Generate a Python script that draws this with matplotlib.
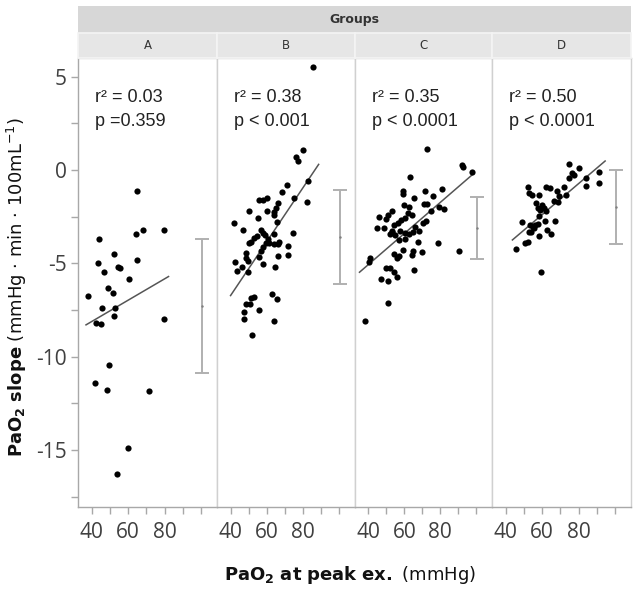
import numpy as np
import matplotlib.pyplot as plt
from matplotlib.patches import Rectangle

plt.rcParams['mathtext.fontset'] = 'custom'
plt.rcParams['mathtext.rm'] = 'DejaVu Sans'
plt.rcParams['mathtext.bf'] = 'DejaVu Sans:bold'
plt.rcParams['axes.unicode_minus'] = False

groups = ['A', 'B', 'C', 'D']

# PaO2 at peak ex. (mmHg) vs PaO2 slope
a_x = [65.1, 64.5, 68.0, 79.6, 44.2, 52.2, 43.6, 54.5, 55.5, 65.1, 46.9, 60.5, 48.7, 51.5,
       38.2, 45.6, 52.9, 52.2, 42.5, 44.9, 79.5, 49.5, 41.6, 48.2, 71.3, 60.0, 54.0]
a_y = [-1.11, -3.43, -3.21, -3.21, -3.71, -4.50, -5.00, -5.20, -5.25, -4.82, -5.45, -5.84, -6.34, -6.60,
       -6.73, -7.38, -7.41, -7.82, -8.18, -8.25, -8.00, -10.45, -11.40, -11.80, -11.84, -14.90, -16.30]

b_x = [85.5, 80.0, 76.2, 77.2, 82.8, 71.0, 68.6, 82.4, 75.0, 55.8, 57.7, 59.9, 50.4, 59.9,
       66.4, 65.1, 63.8, 64.2, 55.0, 65.7, 41.9, 47.1, 56.7, 58.0, 58.9, 74.6, 64.2, 54.5,
       53.0, 51.2, 50.0, 59.5, 61.3, 63.8, 66.9, 72.0, 57.7, 57.1, 48.4, 48.7, 55.8, 66.4,
       72.0, 49.7, 42.4, 46.3, 57.8, 64.4, 43.5, 49.8, 63.0, 65.7, 53.0, 51.5, 48.4, 50.6,
       55.8, 47.4, 47.4, 64.0, 51.7, 60.5, 66.0]
b_y = [5.54, 1.07, 0.70, 0.50, -0.59, -0.80, -1.16, -1.73, -1.48, -1.61, -1.61, -1.52, -2.20, -2.20,
       -1.75, -2.02, -2.27, -2.41, -2.59, -2.77, -2.86, -3.21, -3.21, -3.36, -3.48, -3.39, -3.45, -3.54,
       -3.66, -3.84, -3.89, -3.93, -3.93, -3.98, -3.84, -4.07, -4.11, -4.34, -4.46, -4.73, -4.68, -4.61,
       -4.55, -4.88, -4.91, -5.18, -5.05, -5.21, -5.43, -5.48, -6.64, -6.91, -6.79, -6.88, -7.18, -7.20,
       -7.50, -7.63, -8.00, -8.07, -8.84, -3.70, -3.95]

c_x = [72.4, 92.0, 92.9, 97.6, 63.1, 59.4, 59.4, 71.5, 80.7, 65.6, 75.7, 60.0, 71.1, 72.6,
       79.4, 82.2, 62.8, 61.9, 64.1, 75.0, 53.0, 51.1, 45.9, 49.6, 58.1, 60.6, 71.9, 70.6,
       54.1, 45.0, 48.9, 65.7, 53.3, 57.8, 64.8, 68.3, 52.2, 54.8, 60.6, 62.4, 56.8, 60.4,
       67.8, 78.7, 59.4, 64.6, 69.6, 90.2, 54.4, 55.7, 64.1, 41.1, 40.4, 49.8, 52.0, 65.6,
       54.4, 56.1, 47.0, 51.1, 51.1, 37.8, 56.5, 53.0, 57.0]
c_y = [1.13, 0.25, 0.18, -0.09, -0.39, -1.11, -1.29, -1.11, -1.02, -1.52, -1.39, -1.88, -1.84, -1.82,
       -1.96, -2.11, -1.96, -2.29, -2.41, -2.20, -2.20, -2.41, -2.50, -2.64, -2.68, -2.55, -2.73, -2.86,
       -2.95, -3.13, -3.13, -3.04, -3.27, -3.27, -3.30, -3.27, -3.43, -3.48, -3.39, -3.45, -3.75, -3.70,
       -3.84, -3.93, -4.29, -4.34, -4.38, -4.34, -4.50, -4.73, -4.55, -4.73, -4.91, -5.23, -5.27, -5.38,
       -5.45, -5.71, -5.84, -5.95, -7.11, -8.07, -2.85, -3.35, -4.60]

d_x = [74.8, 80.0, 76.3, 77.4, 75.0, 91.5, 84.0, 91.5, 84.0, 52.2, 62.2, 64.3, 72.0, 68.3,
       52.9, 54.4, 58.1, 73.0, 69.3, 66.5, 56.9, 68.9, 60.0, 57.6, 60.9, 59.1, 62.2, 58.5,
       61.5, 67.0, 48.9, 57.8, 53.5, 54.8, 55.7, 52.9, 62.8, 65.0, 58.1, 52.2, 50.7, 45.7,
       59.4, 53.9, 56.3]
d_y = [0.30, 0.13, -0.14, -0.27, -0.45, -0.09, -0.45, -0.71, -0.86, -0.89, -0.89, -0.95, -0.93, -1.11,
       -1.21, -1.34, -1.34, -1.34, -1.39, -1.66, -1.79, -1.70, -1.88, -2.02, -2.05, -2.14, -2.20, -2.46,
       -2.71, -2.71, -2.80, -2.91, -2.95, -3.04, -3.13, -3.30, -3.21, -3.45, -3.52, -3.84, -3.93, -4.25,
       -5.45, -3.30, -2.95]

# fitted lines (start / end)
fit_x = [[36.9, 82.2], [40.0, 88.7], [35.0, 98.5], [43.7, 94.6]]
fit_y = [[-8.30, -5.71], [-6.73, 0.30], [-5.48, -0.20], [-3.75, 0.48]]

# mean +/- SD bars drawn right of each panel
bar_x = 100.5
bar_mean = [-7.27, -3.60, -3.09, -2.00]
bar_lo = [-10.90, -6.11, -4.79, -3.96]
bar_hi = [-3.71, -1.07, -1.43, 0.00]

r2_text = ['0.03', '0.38', '0.35', '0.50']
p_text = ['p =0.359', 'p < 0.001', 'p < 0.0001', 'p < 0.0001']

xs = [a_x, b_x, c_x, d_x]
ys = [a_y, b_y, c_y, d_y]

W, H = 638, 591
fig = plt.figure(figsize=(W / 100, H / 100), dpi=100)

lefts = [78, 217, 355, 492]
rights = [217, 355, 492, 631]
top_px, bot_px = 58, 507

def fx(px):
    return px / W

def fy(py):
    return 1 - py / H

# header strips
fig.patches.append(Rectangle((fx(78), fy(33)), fx(631) - fx(78), fy(6) - fy(33),
                             transform=fig.transFigure, facecolor='#d7d7d7', edgecolor='none'))
fig.text(fx(354.5), fy(19.5), 'Groups', ha='center', va='center', fontsize=9,
         fontweight='bold', color='#333333', family='DejaVu Sans')
for i, g in enumerate(groups):
    fig.patches.append(Rectangle((fx(lefts[i]), fy(58)), fx(rights[i]) - fx(lefts[i]), fy(33) - fy(58),
                                 transform=fig.transFigure, facecolor='#e6e6e6',
                                 edgecolor='#f4f4f4', linewidth=1.2))
    fig.text(fx((lefts[i] + rights[i]) / 2), fy(45.5), g, ha='center', va='center',
             fontsize=8.5, color='#333333', family='DejaVu Sans')

for i, g in enumerate(groups):
    ax = fig.add_axes([fx(lefts[i]), fy(bot_px), fx(rights[i]) - fx(lefts[i]), fy(top_px) - fy(bot_px)])
    ax.scatter(xs[i], ys[i], s=20, color='black', zorder=3, linewidths=0)
    ax.plot(fit_x[i], fit_y[i], color='#555555', lw=1.1, zorder=2)
    m = bar_mean[i]
    ax.errorbar([bar_x], [m], yerr=[[m - bar_lo[i]], [bar_hi[i] - m]], fmt='.', ms=1.5,
                color='#b0b0b0', mfc='#808080', mec='#808080', ecolor='#b0b0b0',
                elinewidth=1.4, capsize=5, capthick=1.4)
    ax.text(0.125, 0.913, 'r\u00b2 = ' + r2_text[i], transform=ax.transAxes, fontsize=13,
            family='Liberation Sans', color='#222222', va='center', ha='left')
    ax.text(0.125, 0.858, p_text[i], transform=ax.transAxes, fontsize=13,
            family='Liberation Sans', color='#222222', va='center', ha='left')

    ax.set_xlim(32.5, 108.8)
    ax.set_ylim(-18.06, 6.0)
    ax.set_xticks(np.arange(40, 101, 10))
    ax.set_xticklabels(['40', '', '60', '', '80', '', ''])
    ax.tick_params(axis='x', direction='out', length=5, width=1, color='#a8a8a8',
                   labelsize=15, labelcolor='#404040', pad=6)
    for lab in ax.get_xticklabels():
        lab.set_family('Open Sans')
    for s in ax.spines.values():
        s.set_color('#d0d0d0')
        s.set_linewidth(1)
    ax.spines['bottom'].set_color('#a8a8a8')
    if i == 0:
        ax.set_yticks([-15, -10, -5, 0, 5])
        ax.set_yticks(np.arange(-17.5, 6, 2.5), minor=True)
        ax.tick_params(axis='y', which='both', direction='out', length=5, width=1, color='#a8a8a8',
                       labelsize=15, labelcolor='#404040', pad=3)
        for lab in ax.get_yticklabels():
            lab.set_family('Open Sans')
        ax.spines['left'].set_color('#a8a8a8')
    else:
        ax.set_yticks([])

fig.text(fx(17), fy(287), r'$\mathbf{PaO_2\ slope}$ (mmHg · min · 100mL$^{-1}$)', rotation=90,
         ha='center', va='center', fontsize=13, color='#111111', family='DejaVu Sans')
fig.text(fx(350), fy(575), r'$\mathbf{PaO_2\ at\ peak\ ex.}$ (mmHg)',
         ha='center', va='center', fontsize=13, color='#111111', family='DejaVu Sans')

fig.savefig('out.png', dpi=100)
